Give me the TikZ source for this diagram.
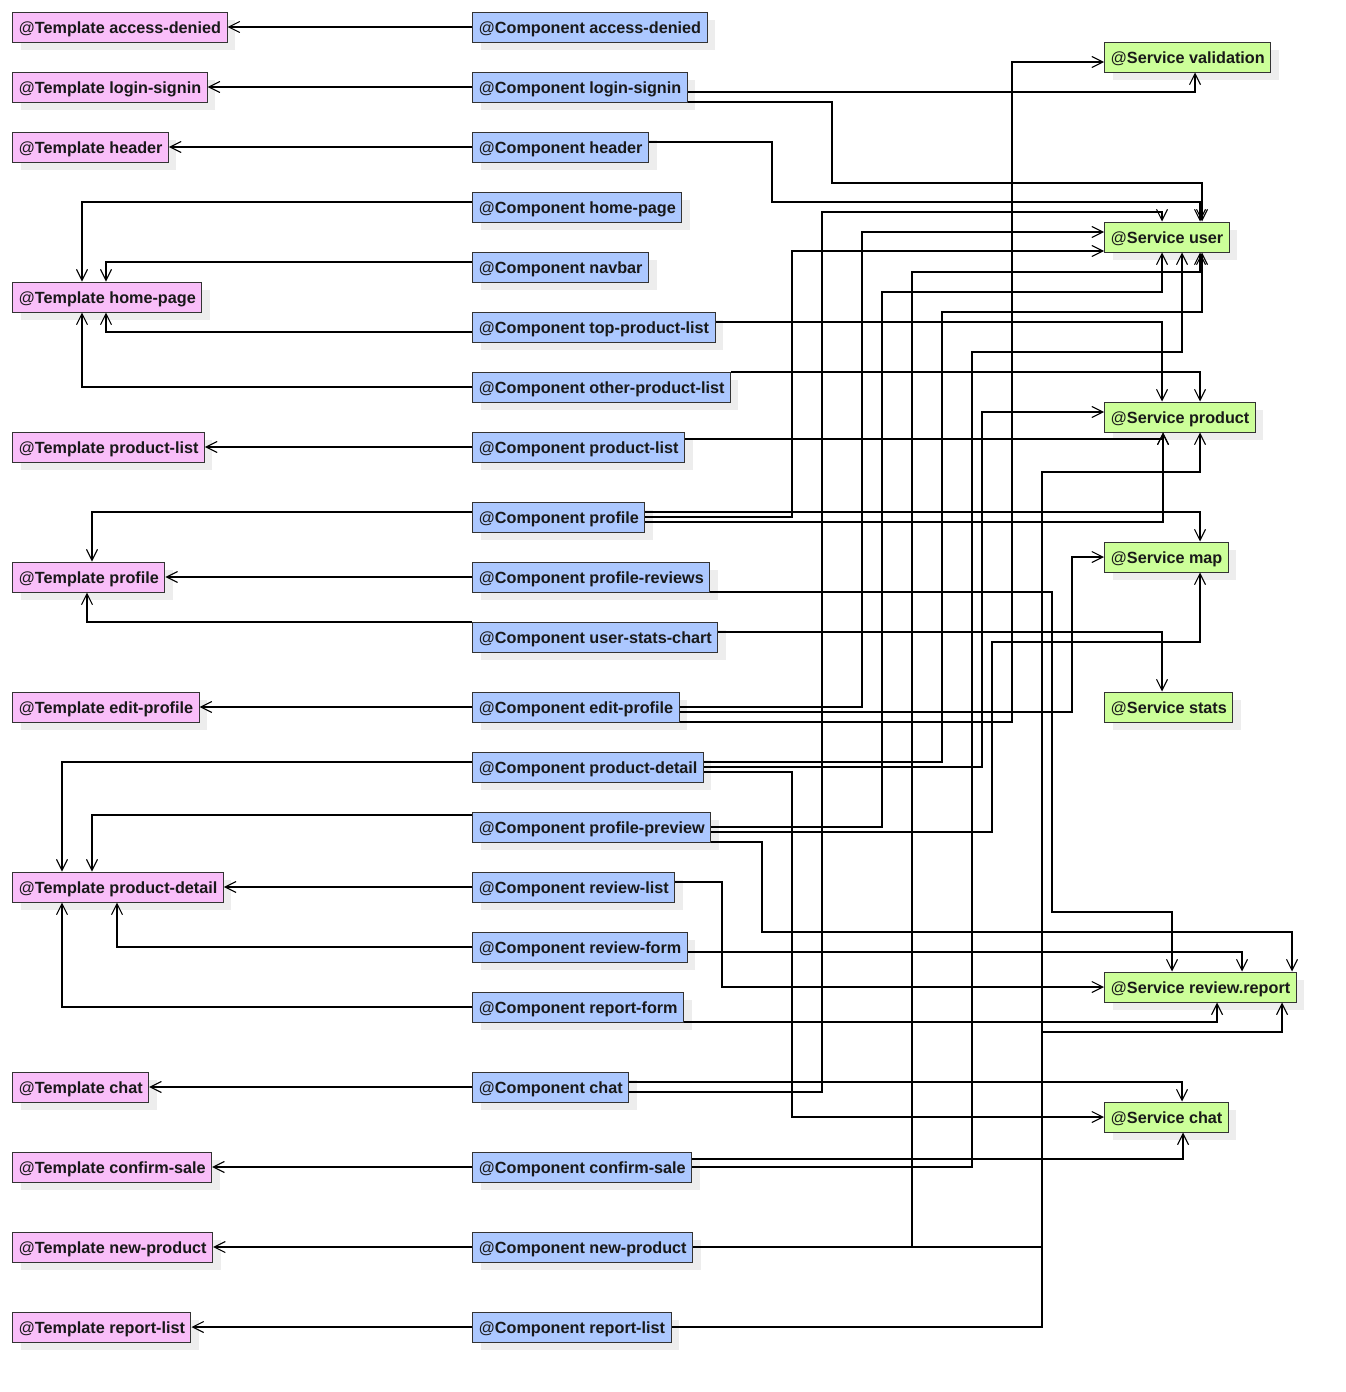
\documentclass[tikz,border=0pt]{standalone}
\usepackage{fontspec}
\setmainfont{Liberation Sans}
\usetikzlibrary{arrows.meta,calc,shadows}
\definecolor{tplfill}{RGB}{249,190,249}
\definecolor{cmpfill}{RGB}{172,200,255}
\definecolor{svcfill}{RGB}{204,255,153}
\newcommand{\atname}[1]{\textmd{@}\textbf{#1}}

\begin{document}
\begin{tikzpicture}[x=1pt,y=-1pt,
  box/.style={draw=black!80,line width=1pt,anchor=west,minimum height=30pt,
    inner xsep=6pt,inner ysep=0pt,text height=14pt,text depth=1pt,
    font=\fontsize{16.2}{19}\selectfont,text=black!90,
    general shadow={fill=black!7,shadow xshift=8pt,shadow yshift=-8pt}},
  tpl/.style={box,fill=tplfill},
  cmp/.style={box,fill=cmpfill},
  svc/.style={box,fill=svcfill},
  dep/.style={draw=black,line width=1.1pt,
    -{Straight Barb[length=11pt,width=11pt,line width=1.1pt]}}]

\path[use as bounding box,fill=white] (0,0) rectangle (1345,1392);

% templates
\node[tpl] (tAccess)  at (12,27)   {\atname{Template access-denied}};
\node[tpl] (tLogin)   at (12,87)   {\atname{Template login-signin}};
\node[tpl] (tHeader)  at (12,147)  {\atname{Template header}};
\node[tpl] (tHome)    at (12,297)  {\atname{Template home-page}};
\node[tpl] (tPList)   at (12,447)  {\atname{Template product-list}};
\node[tpl] (tProfile) at (12,577)  {\atname{Template profile}};
\node[tpl] (tEdit)    at (12,707)  {\atname{Template edit-profile}};
\node[tpl] (tPDetail) at (12,887)  {\atname{Template product-detail}};
\node[tpl] (tChat)    at (12,1087) {\atname{Template chat}};
\node[tpl] (tConfirm) at (12,1167) {\atname{Template confirm-sale}};
\node[tpl] (tNewP)    at (12,1247) {\atname{Template new-product}};
\node[tpl] (tReportL) at (12,1327) {\atname{Template report-list}};

% components
\node[cmp] (cAccess)   at (472,27)   {\atname{Component access-denied}};
\node[cmp] (cLogin)    at (472,87)   {\atname{Component login-signin}};
\node[cmp] (cHeader)   at (472,147)  {\atname{Component header}};
\node[cmp] (cHome)     at (472,207)  {\atname{Component home-page}};
\node[cmp] (cNavbar)   at (472,267)  {\atname{Component navbar}};
\node[cmp] (cTop)      at (472,327)  {\atname{Component top-product-list}};
\node[cmp] (cOther)    at (472,387)  {\atname{Component other-product-list}};
\node[cmp] (cPList)    at (472,447)  {\atname{Component product-list}};
\node[cmp] (cProfile)  at (472,517)  {\atname{Component profile}};
\node[cmp] (cPReviews) at (472,577)  {\atname{Component profile-reviews}};
\node[cmp] (cStats)    at (472,637)  {\atname{Component user-stats-chart}};
\node[cmp] (cEdit)     at (472,707)  {\atname{Component edit-profile}};
\node[cmp] (cPDetail)  at (472,767)  {\atname{Component product-detail}};
\node[cmp] (cPPreview) at (472,827)  {\atname{Component profile-preview}};
\node[cmp] (cRList)    at (472,887)  {\atname{Component review-list}};
\node[cmp] (cRForm)    at (472,947)  {\atname{Component review-form}};
\node[cmp] (cReportF)  at (472,1007) {\atname{Component report-form}};
\node[cmp] (cChat)     at (472,1087) {\atname{Component chat}};
\node[cmp] (cConfirm)  at (472,1167) {\atname{Component confirm-sale}};
\node[cmp] (cNewP)     at (472,1247) {\atname{Component new-product}};
\node[cmp] (cReportL)  at (472,1327) {\atname{Component report-list}};

% services
\node[svc] (sValid)   at (1104,57)   {\atname{Service validation}};
\node[svc] (sUser)    at (1104,237)  {\atname{Service user}};
\node[svc] (sProduct) at (1104,417)  {\atname{Service product}};
\node[svc] (sMap)     at (1104,557)  {\atname{Service map}};
\node[svc] (sStats)   at (1104,707)  {\atname{Service stats}};
\node[svc] (sReview)  at (1104,987)  {\atname{Service review.report}};
\node[svc] (sChat)    at (1104,1117) {\atname{Service chat}};

% component -> template
\draw[dep] (cAccess.west) -- (tAccess.east);
\draw[dep] (cLogin.west) -- (tLogin.east);
\draw[dep] (cHeader.west) -- (tHeader.east);
\draw[dep] (cHome.west|-0,202) -| ($(tHome.north west)+(70,0)$);
\draw[dep] (cNavbar.west|-0,262) -| ($(tHome.north west)+(94,0)$);
\draw[dep] (cTop.west|-0,332) -| ($(tHome.south west)+(94,0)$);
\draw[dep] (cOther.west|-0,387) -| ($(tHome.south west)+(70,0)$);
\draw[dep] (cPList.west) -- (tPList.east);
\draw[dep] (cProfile.west|-0,512) -| ($(tProfile.north west)+(80,0)$);
\draw[dep] (cPReviews.west) -- (tProfile.east);
\draw[dep] (cStats.west|-0,622) -| ($(tProfile.south west)+(75,0)$);
\draw[dep] (cEdit.west) -- (tEdit.east);
\draw[dep] (cPDetail.west|-0,762) -| ($(tPDetail.north west)+(50,0)$);
\draw[dep] (cPPreview.west|-0,815) -| ($(tPDetail.north west)+(80,0)$);
\draw[dep] (cRList.west) -- (tPDetail.east);
\draw[dep] (cRForm.west|-0,947) -| ($(tPDetail.south west)+(105,0)$);
\draw[dep] (cReportF.west|-0,1007) -| ($(tPDetail.south west)+(50,0)$);
\draw[dep] (cChat.west) -- (tChat.east);
\draw[dep] (cConfirm.west) -- (tConfirm.east);
\draw[dep] (cNewP.west) -- (tNewP.east);
\draw[dep] (cReportL.west) -- (tReportL.east);

% component -> service: validation
\draw[dep] (cLogin.east|-0,92) -| ($(sValid.south west)+(91,0)$);
\draw[dep] (cEdit.east|-0,722) -| (1012,62) -- (sValid.west|-0,62);

% component -> service: user
\draw[dep] (cLogin.east|-0,102) -| (832,183) -| ($(sUser.north west)+(98,0)$);
\draw[dep] (cHeader.east|-0,142) -| (772,202) -| ($(sUser.north west)+(96,0)$);
\draw[dep] (cChat.east|-0,1092) -| (822,212) -| ($(sUser.north west)+(58,0)$);
\draw[dep] (cEdit.east|-0,707) -| (862,232) -- (sUser.west|-0,232);
\draw[dep] (cProfile.east|-0,517) -| (792,251) -- (sUser.west|-0,251);
\draw[dep] (cNewP.east|-0,1247) -| (912,272) -| ($(sUser.south west)+(96,0)$);
\draw[dep] (cPPreview.east|-0,827) -| (882,292) -| ($(sUser.south west)+(58,0)$);
\draw[dep] (cPDetail.east|-0,762) -| (942,312) -| ($(sUser.south west)+(98,0)$);
\draw[dep] (cConfirm.east|-0,1167) -| (972,352) -| ($(sUser.south west)+(78,0)$);

% component -> service: product
\draw[dep] (cTop.east|-0,322) -| ($(sProduct.north west)+(58,0)$);
\draw[dep] (cOther.east|-0,372) -| ($(sProduct.north west)+(96,0)$);
\draw[dep] (cPDetail.east|-0,767) -| (982,412) -- (sProduct.west|-0,412);
\draw[dep] (cPList.east|-0,439) -| ($(sProduct.south west)+(59,0)$);
\draw[dep] (cProfile.east|-0,522) -| ($(sProduct.south west)+(59,0)$);
\draw[dep] (cNewP.east|-0,1247) -| (1042,472) -| ($(sProduct.south west)+(96,0)$);

% component -> service: map and stats
\draw[dep] (cProfile.east|-0,512) -| ($(sMap.north west)+(96,0)$);
\draw[dep] (cEdit.east|-0,712) -| (1072,557) -- (sMap.west);
\draw[dep] (cPPreview.east|-0,832) -| (992,642) -| ($(sMap.south west)+(96,0)$);
\draw[dep] (cStats.east|-0,632) -| ($(sStats.north west)+(58,0)$);

% component -> service: review.report
\draw[dep] (cPReviews.east|-0,592) -| (1052,912) -| ($(sReview.north west)+(68,0)$);
\draw[dep] (cPPreview.east|-0,842) -| (762,932) -| ($(sReview.north west)+(188,0)$);
\draw[dep] (cRForm.east|-0,952) -| ($(sReview.north west)+(138,0)$);
\draw[dep] (cRList.east|-0,882) -| (722,987) -- (sReview.west);
\draw[dep] (cReportF.east|-0,1022) -| ($(sReview.south west)+(113,0)$);
\draw[dep] (cReportL.east|-0,1327) -| (1042,1032) -| ($(sReview.south west)+(178,0)$);

% component -> service: chat
\draw[dep] (cChat.east|-0,1082) -| ($(sChat.north west)+(78,0)$);
\draw[dep] (cPDetail.east|-0,772) -| (792,1117) -- (sChat.west);
\draw[dep] (cConfirm.east|-0,1159) -| ($(sChat.south west)+(79,0)$);

\end{tikzpicture}
\end{document}
